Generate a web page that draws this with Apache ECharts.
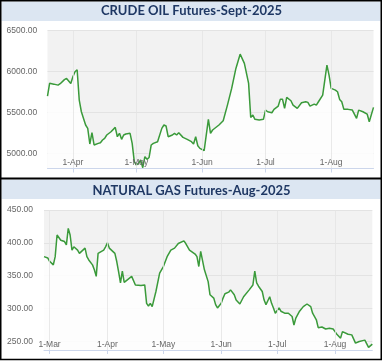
<!DOCTYPE html>
<html><head><meta charset="utf-8">
<script src="https://cdn.jsdelivr.net/npm/echarts@6/dist/echarts.min.js"></script>
<style>html,body{margin:0;padding:0;background:#fff}#c{width:383px;height:362px}</style>
</head><body><div id="c"></div>
<script>
const crudeTitle = 'CRUDE OIL Futures-Sept-2025';
const gasTitle = 'NATURAL GAS Futures-Aug-2025';

const crudeDates = [
 '2025-03-20','2025-03-21','2025-03-23','2025-03-25','2025-03-26','2025-03-28','2025-03-29','2025-03-31',
 '2025-04-01','2025-04-02','2025-04-03','2025-04-04','2025-04-05','2025-04-07','2025-04-08','2025-04-09',
 '2025-04-10','2025-04-11','2025-04-13','2025-04-14','2025-04-15','2025-04-16','2025-04-17','2025-04-19',
 '2025-04-21','2025-04-22','2025-04-23','2025-04-24','2025-04-25','2025-04-26','2025-04-28','2025-04-29',
 '2025-04-30','2025-05-01','2025-05-02','2025-05-03','2025-05-04','2025-05-05','2025-05-06','2025-05-07',
 '2025-05-08','2025-05-09','2025-05-11','2025-05-13','2025-05-14','2025-05-15','2025-05-16','2025-05-18',
 '2025-05-19','2025-05-20','2025-05-21','2025-05-23','2025-05-25','2025-05-27','2025-05-28','2025-05-29',
 '2025-05-30','2025-05-31','2025-06-02','2025-06-04','2025-06-05','2025-06-06','2025-06-09','2025-06-11',
 '2025-06-13','2025-06-15','2025-06-17','2025-06-19','2025-06-21','2025-06-23','2025-06-24','2025-06-25',
 '2025-06-26','2025-06-28','2025-06-30','2025-07-01','2025-07-02','2025-07-04','2025-07-05','2025-07-07',
 '2025-07-08','2025-07-09','2025-07-10','2025-07-11','2025-07-13','2025-07-14','2025-07-16','2025-07-18',
 '2025-07-20','2025-07-21','2025-07-22','2025-07-24','2025-07-25','2025-07-26','2025-07-28','2025-07-29',
 '2025-07-30','2025-07-31','2025-08-01','2025-08-03','2025-08-04','2025-08-05','2025-08-06','2025-08-07',
 '2025-08-09','2025-08-11','2025-08-13','2025-08-14','2025-08-16','2025-08-18','2025-08-19','2025-08-21'
];
const crudeValues = [
 5700,5855,5845,5833,5850,5900,5915,5853,
 5935,5996,6020,5650,5508,5346,5305,5114,
 5252,5102,5122,5130,5163,5183,5224,5264,
 5317,5203,5244,5171,5224,5236,5244,5122,
 4898,4858,4878,4919,4825,4960,4927,4950,
 5102,5122,5142,5305,5346,5334,5203,5224,
 5244,5224,5252,5195,5171,5142,5114,5203,
 5093,5061,5033,5415,5244,5285,5346,5398,
 5589,5793,6037,6211,6098,5854,5439,5467,
 5415,5407,5415,5528,5508,5496,5537,5577,
 5662,5662,5549,5683,5642,5589,5549,5618,
 5630,5622,5577,5601,5589,5630,5711,5894,
 6077,5955,5793,5772,5752,5659,5630,5537,
 5537,5528,5427,5528,5508,5480,5386,5561
];

const gasDates = [
 '2025-02-26','2025-02-28','2025-03-01','2025-03-03','2025-03-04','2025-03-05','2025-03-06','2025-03-07',
 '2025-03-09','2025-03-10','2025-03-11','2025-03-12','2025-03-13','2025-03-14','2025-03-15','2025-03-16',
 '2025-03-17','2025-03-18','2025-03-20','2025-03-21','2025-03-22','2025-03-24','2025-03-25','2025-03-26',
 '2025-03-27','2025-03-28','2025-03-30','2025-03-31','2025-04-01','2025-04-02','2025-04-03','2025-04-05',
 '2025-04-06','2025-04-07','2025-04-08','2025-04-09','2025-04-10','2025-04-11','2025-04-14','2025-04-16',
 '2025-04-19','2025-04-21','2025-04-22','2025-04-23','2025-04-24','2025-04-25','2025-04-27','2025-04-29',
 '2025-05-01','2025-05-03','2025-05-05','2025-05-06','2025-05-07','2025-05-09','2025-05-10','2025-05-12',
 '2025-05-13','2025-05-14','2025-05-15','2025-05-16','2025-05-18','2025-05-19','2025-05-20','2025-05-21',
 '2025-05-22','2025-05-23','2025-05-25','2025-05-26','2025-05-27','2025-05-28','2025-05-29','2025-05-30',
 '2025-06-01','2025-06-02','2025-06-03','2025-06-04','2025-06-05','2025-06-06','2025-06-08','2025-06-09',
 '2025-06-11','2025-06-12','2025-06-13','2025-06-16','2025-06-17','2025-06-18','2025-06-19','2025-06-20',
 '2025-06-21','2025-06-23','2025-06-24','2025-06-25','2025-06-26','2025-06-27','2025-06-28','2025-06-29',
 '2025-06-30','2025-07-02','2025-07-03','2025-07-05','2025-07-06','2025-07-07','2025-07-09','2025-07-10',
 '2025-07-11','2025-07-12','2025-07-13','2025-07-15','2025-07-17','2025-07-18','2025-07-19','2025-07-20',
 '2025-07-22','2025-07-23','2025-07-25','2025-07-27','2025-07-28','2025-07-29','2025-07-30','2025-07-31',
 '2025-08-01','2025-08-02','2025-08-04','2025-08-05','2025-08-06','2025-08-08','2025-08-10','2025-08-12',
 '2025-08-14','2025-08-17','2025-08-18','2025-08-19','2025-08-20','2025-08-21'
];
const gasValues = [
 379,377,372,366.5,379,412,411,404,
 402,397,422,412,389,394,392,389,
 384,384,392,379,374,366.5,359,349,
 384,387,389,394,400,392,394,384,
 371.6,356,339,357,340,343,349,336,
 335,336,308,304,308,303,326,354,
 364,379,389,386,392,399,402,403,
 399,402,389,387,383,379,364,387,
 389,359,341,321,323,316,306,301,
 308,316,322.5,322,325,328.5,321,313,
 307,308,318,328.5,331,336,357,339,
 334,326,313,306,312,318,308,301,
 293,301,296,293,296,293,288,275,
 285.5,288,296,303,307,308,303,293,
 283,271,272,269,266,270,268,269,
 265,261,255,265,268,261,260,247.5,
 250,252,253.5,241,239,246
];

const crudeYTicks = [5000, 5500, 6000, 6500];
const gasYTicks = [250, 300, 350, 400, 450];
const crudeXTicks = ['2025-04-01','2025-05-01','2025-06-01','2025-07-01','2025-08-01'];
const gasXTicks = ['2025-03-01','2025-04-01','2025-05-01','2025-06-01','2025-07-01','2025-08-01'];
const monthNames = ['Jan','Feb','Mar','Apr','May','Jun','Jul','Aug','Sep','Oct','Nov','Dec'];

function toTs(s) { const p = s.split('-').map(Number); return Date.UTC(p[0], p[1] - 1, p[2]); }
function dayLabel(v) { const d = new Date(v); return d.getUTCDate() + '-' + monthNames[d.getUTCMonth()]; }

const LINE = '#3a9a3a';
const GRID_LINE = '#e3e3e3';
const AXIS_LINE = '#ccd6eb';
const LABEL = '#666666';
const FONT = 'Liberation Sans';

function xAxisCfg(idx, minD, maxD, ticks) {
  const tv = ticks.map(toTs);
  return {
    type: 'value', gridIndex: idx, min: toTs(minD), max: toTs(maxD), z: 5,
    axisLine: { show: true, lineStyle: { color: AXIS_LINE, width: 1 } },
    axisTick: { show: true, length: 4, customValues: tv, lineStyle: { color: AXIS_LINE } },
    axisLabel: { customValues: tv, formatter: dayLabel, color: LABEL, fontSize: 8.5, fontFamily: FONT, margin: -10, hideOverlap: false },
    splitLine: { show: true, lineStyle: { color: GRID_LINE, width: 1, opacity: 0.8 } }
  };
}
function yAxisCfg(idx, min, max, ticks, margin) {
  return {
    type: 'value', gridIndex: idx, min: min, max: max,
    axisLine: { show: false },
    axisTick: { show: false, customValues: ticks },
    axisLabel: { customValues: ticks, formatter: v => v.toFixed(2), color: LABEL, fontSize: 8.5, fontFamily: FONT, align: 'left', margin: margin },
    splitLine: { show: true, lineStyle: { color: GRID_LINE, width: 1 } }
  };
}

const chart = echarts.init(document.getElementById('c'), null, { renderer: 'canvas' });
chart.setOption({
  animation: false,
  backgroundColor: '#ffffff',
  title: [
    { text: crudeTitle, left: 'center', top: 4.5, padding: 0, z: 10,
      textStyle: { fontFamily: 'Lato', fontWeight: 'bold', fontSize: 13, lineHeight: 13, color: '#1f3864' } },
    { text: gasTitle, left: 'center', top: 184.5, padding: 0, z: 10,
      textStyle: { fontFamily: 'Lato', fontWeight: 'bold', fontSize: 13, lineHeight: 13, color: '#1f3864' } }
  ],
  graphic: [
    { type: 'rect', shape: { x: 1.5, y: 1.5, width: 379, height: 19.5 }, style: { fill: '#dce6f2' }, z: 0 },
    { type: 'rect', shape: { x: 1.5, y: 179.5, width: 379, height: 19.5 }, style: { fill: '#dce6f2' }, z: 0 },
    { type: 'rect', shape: { x: 0, y: 177.5, width: 382, height: 2 }, style: { fill: '#000' }, z: 1 },
    { type: 'rect', shape: { x: 0.75, y: 0.75, width: 380.5, height: 358.75 }, style: { fill: null, stroke: '#000', lineWidth: 1.5 }, z: 1 }
  ],
  grid: [
    { left: 47.5, right: 9.5, top: 30.5, height: 138, show: true, backgroundColor: '#f2f2f2', borderWidth: 0 },
    { left: 44, right: 10.7, top: 210, height: 140, show: true, backgroundColor: '#f2f2f2', borderWidth: 0 }
  ],
  xAxis: [
    xAxisCfg(0, '2025-03-20', '2025-08-21', crudeXTicks),
    xAxisCfg(1, '2025-02-26', '2025-08-21', gasXTicks)
  ],
  yAxis: [
    yAxisCfg(0, 4815, 6500, crudeYTicks, 41),
    yAxisCfg(1, 237, 450, gasYTicks, 37)
  ],
  series: [
    { type: 'line', xAxisIndex: 0, yAxisIndex: 0, symbol: 'none', showSymbol: false, z: 2,
      lineStyle: { color: LINE, width: 1.5 }, areaStyle: { color: '#ffffff', opacity: 0.85 },
      data: crudeDates.map((d, i) => [toTs(d), crudeValues[i]]) },
    { type: 'line', xAxisIndex: 1, yAxisIndex: 1, symbol: 'none', showSymbol: false, z: 2,
      lineStyle: { color: LINE, width: 1.5 }, areaStyle: { color: '#ffffff', opacity: 0.85 },
      data: gasDates.map((d, i) => [toTs(d), gasValues[i]]) }
  ]
});
</script></body></html>
